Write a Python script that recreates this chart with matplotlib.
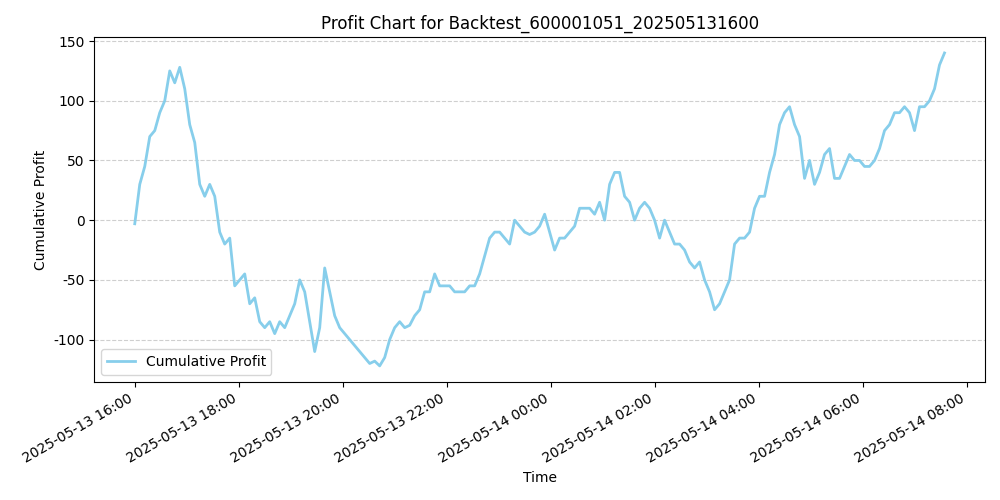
import matplotlib
matplotlib.use("Agg")
import matplotlib.pyplot as plt
import matplotlib.dates as mdates
import pandas as pd

plt.rcParams["axes.unicode_minus"] = False

start_time = "2025-05-13 16:00"
end_time = "2025-05-14 07:34"
profit = [-3, 30, 45, 70, 75, 90, 100, 125, 115, 128, 110, 80, 65, 30, 20, 30, 20, -10, -20, -15,
          -55, -50, -45, -70, -65, -85, -90, -85, -95, -85, -90, -80, -70, -50, -60, -85, -110, -90,
          -40, -60, -80, -90, -95, -100, -105, -110, -115, -120, -118, -122, -115, -100, -90, -85,
          -90, -88, -80, -75, -60, -60, -45, -55, -55, -55, -60, -60, -60, -55, -55, -45, -30, -15,
          -10, -10, -15, -20, 0, -5, -10, -12, -10, -5, 5, -10, -25, -15, -15, -10, -5, 10, 10, 10,
          5, 15, 0, 30, 40, 40, 20, 15, 0, 10, 15, 10, 0, -15, 0, -10, -20, -20, -25, -35, -40, -35,
          -50, -60, -75, -70, -60, -50, -20, -15, -15, -10, 10, 20, 20, 40, 55, 80, 90, 95, 80, 70,
          35, 50, 30, 40, 55, 60, 35, 35, 45, 55, 50, 50, 45, 45, 50, 60, 75, 80, 90, 90, 95, 90,
          75, 95, 95, 100, 110, 130, 140]

times = pd.date_range(start_time, end_time, periods=len(profit))

fig, ax = plt.subplots(figsize=(10, 5), dpi=100)
ax.plot(times, profit, color="skyblue", lw=2, label="Cumulative Profit")
ax.set_title("Profit Chart for Backtest_600001051_202505131600")
ax.set_xlabel("Time")
ax.set_ylabel("Cumulative Profit")
ax.grid(axis="y", linestyle="--", alpha=0.6)
ax.xaxis.set_major_locator(mdates.HourLocator(interval=2))
ax.xaxis.set_major_formatter(mdates.DateFormatter("%Y-%m-%d %H:%M"))
ax.legend(loc="lower left")
fig.autofmt_xdate()
fig.tight_layout()
fig.savefig("out.png")
